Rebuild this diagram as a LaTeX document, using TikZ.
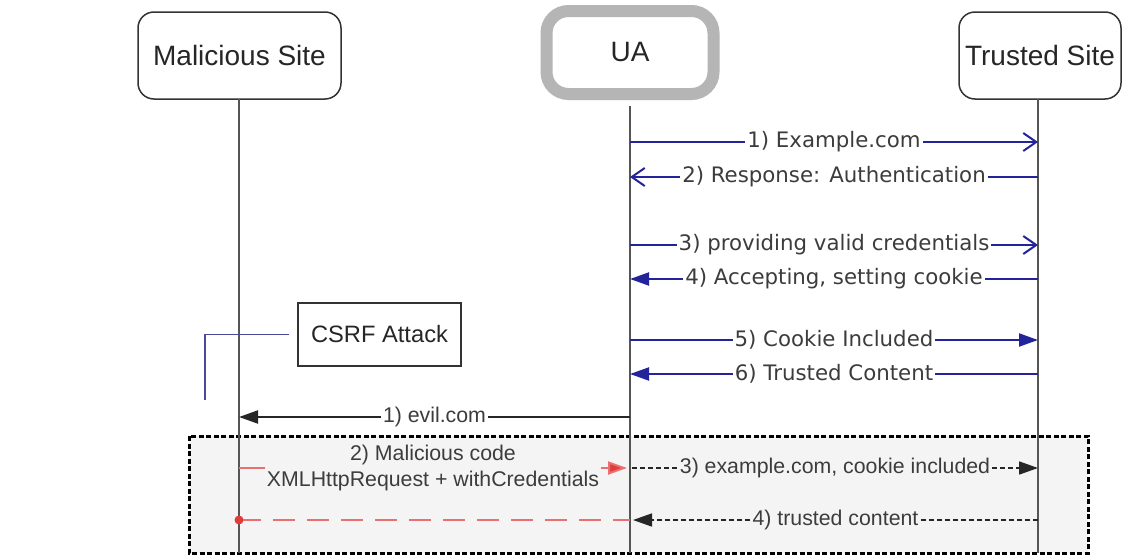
\documentclass[tikz,border=0pt]{standalone}
\usepackage{fontspec}
\setmainfont{Liberation Sans}
\newfontfamily\verdfont{DejaVu Sans}
\usetikzlibrary{arrows.meta}

\definecolor{navy}{HTML}{24249A}
\definecolor{lifegrey}{HTML}{555555}
\definecolor{textgrey}{HTML}{3C3C3C}
\definecolor{boxline}{HTML}{333333}
\definecolor{uagrey}{HTML}{B5B5B5}
\definecolor{redline}{HTML}{E87070}
\definecolor{redhead}{HTML}{E03C3C}
\definecolor{zonegrey}{HTML}{F4F4F4}
\definecolor{notelink}{HTML}{4A4A9A}

\tikzset{
  actor/.style={draw=boxline, line width=1.5pt, rounded corners=16pt, fill=white,
    minimum width=#1, minimum height=87pt, inner sep=0pt,
    font=\fontsize{28}{32}\selectfont, text=black!85},
  uabox/.style={draw=uagrey, line width=12pt, rounded corners=22pt, fill=white,
    minimum width=167pt, minimum height=83pt, inner sep=0pt,
    font=\fontsize{28}{32}\selectfont, text=black!85},
  lifeline/.style={draw=lifegrey, line width=1.8pt},
  msg/.style={draw=navy, line width=2pt},
  openhead/.style={-{Straight Barb[length=13pt,width=18pt,line width=2pt]}},
  fullhead/.style={-{Triangle[length=19pt,width=13pt]}},
  lbl/.style={fill=white, inner sep=2pt, text=textgrey,
    font=\verdfont\fontsize{21.3}{25}\selectfont},
  zonelbl/.style={fill=zonegrey, inner sep=2pt, text=textgrey,
    font=\fontsize{21.3}{26}\selectfont},
  dotmsg/.style={draw=black!85, line width=1.7pt, dash pattern=on 5pt off 3pt},
  notebox/.style={draw=boxline, line width=1.5pt, fill=white,
    minimum width=163pt, minimum height=63pt, inner sep=0pt,
    font=\fontsize{23.7}{28}\selectfont, text=black!85}
}

\begin{document}
\begin{tikzpicture}[x=1pt,y=-1pt]
\useasboundingbox (0,0) rectangle (1125,557);
\fill[white] (0,0) rectangle (1125,557);

% shaded zone of the forged request
\draw[fill=zonegrey, draw=black, line width=3pt, dash pattern=on 5pt off 2.5pt]
  (189,436) rectangle (1088,553);

% participants
\node[actor=203pt] (mal) at (239.5,55.5) {Malicious Site};
\node[uabox] (ua) at (630,52.5) {UA};
\node[actor=162pt] (ts) at (1040,55.5) {Trusted Site};

% lifeline ends
\coordinate (malEnd) at (239,553);
\coordinate (uaEnd) at (630,553);
\coordinate (tsEnd) at (1038,553);
\draw[lifeline] (239,99) -- (malEnd);
\draw[lifeline] (ua.south) ++(0,6) -- (uaEnd);
\draw[lifeline] (1038,99) -- (tsEnd);

% message anchors on the lifelines
\foreach \n/\y in {1/142,2/177,3/245,4/279,5/340,6/374,7/417,8/468,9/520}{
  \coordinate (m\n) at (239,\y);
  \coordinate (u\n) at (630,\y);
  \coordinate (t\n) at (1038,\y);
}

% legitimate session
\draw[msg,openhead] (u1) -- node[lbl]{1) Example.com} (t1);
\draw[msg,openhead] (t2) -- node[lbl]{2) Response: Authentication} (u2);
\draw[msg,openhead] (u3) -- node[lbl]{3) providing valid credentials} (t3);
\draw[msg,fullhead,navy] (t4) -- node[lbl]{4) Accepting, setting cookie} (u4);
\draw[msg,fullhead,navy] (u5) -- node[lbl]{5) Cookie Included} (t5);
\draw[msg,fullhead,navy] (t6) -- node[lbl]{6) Trusted Content} (u6);

% attack note
\node[notebox] (csrf) at (379.5,334.5) {CSRF Attack};
\coordinate (csrfTail) at (205,400);
\draw[notelink, line width=1.5pt, shorten <=8pt] (csrf.west) -| (csrfTail);

% attack
\draw[black!85, line width=2pt, fullhead] (u7) --
  node[fill=white, inner sep=2pt, text=textgrey, font=\fontsize{21.3}{25}\selectfont]{1) evil.com} (m7);

\draw[redline, line width=2pt, -{Triangle[length=19pt,width=13pt,fill=redhead]}]
  (m8) -- node[zonelbl, align=center]{2) Malicious code\\XMLHttpRequest + withCredentials} ([xshift=-3pt]u8);
\draw[dotmsg, fullhead] ([xshift=2pt]u8) -- node[zonelbl]{3) example.com, cookie included} (t8);

\draw[redline, line width=2pt, dash pattern=on 22pt off 12pt] (m9) -- (u9);
\draw[dotmsg, fullhead] (t9) -- node[zonelbl]{4) trusted content} ([xshift=3pt]u9);
\fill[redhead] (m9) circle (4.5pt);
\end{tikzpicture}
\end{document}
